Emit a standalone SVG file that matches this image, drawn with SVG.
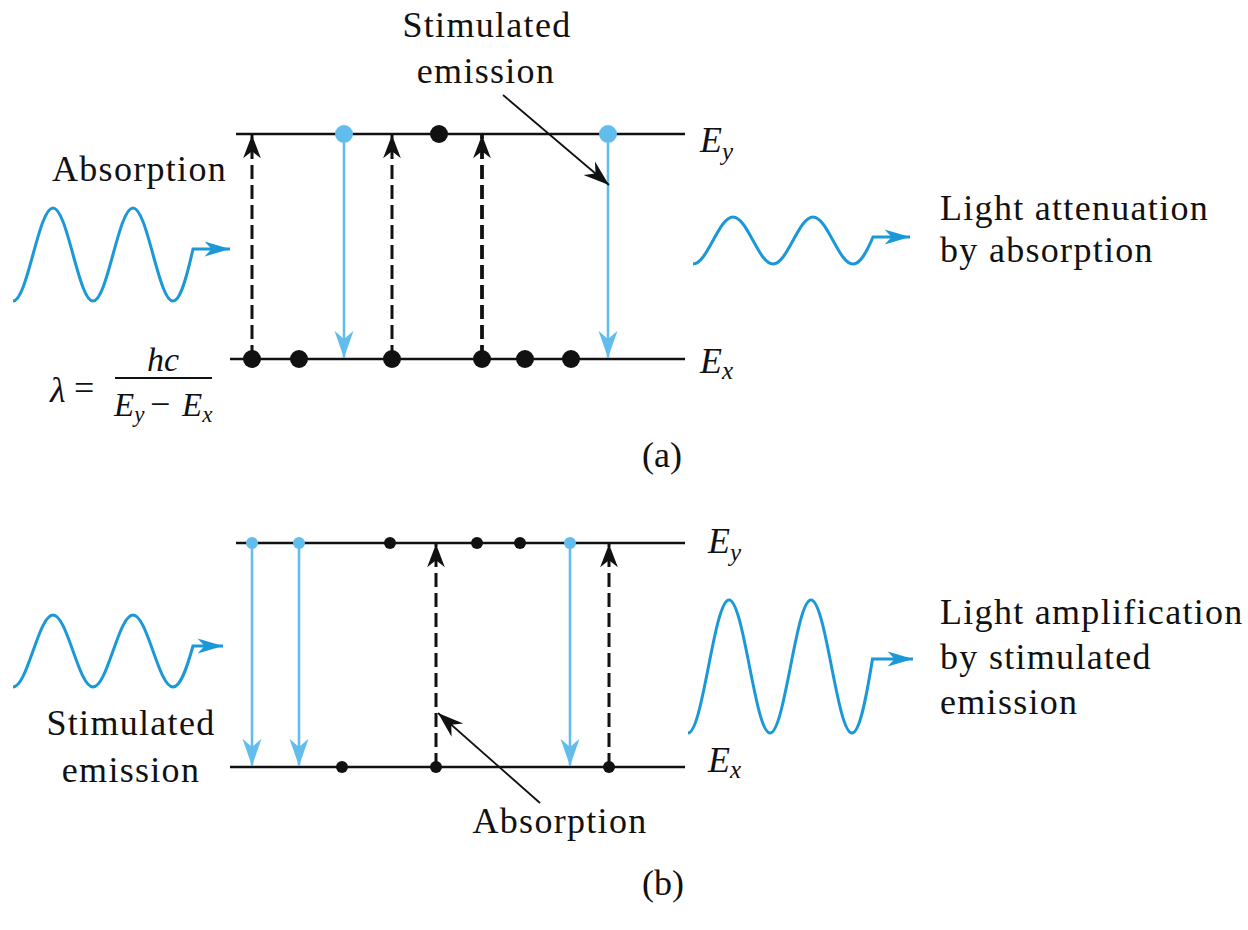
<svg xmlns="http://www.w3.org/2000/svg" width="1248" height="930" viewBox="0 0 1248 930" font-family="'Liberation Serif', 'DejaVu Serif', serif">
<defs>
<style>
.t{font-family:'Liberation Serif','DejaVu Serif',serif;font-size:36px;fill:#111;letter-spacing:1.3px}
.it{font-family:'Liberation Serif','DejaVu Serif',serif;font-style:italic;fill:#111}
.lvl{stroke:#111;stroke-width:2.6;fill:none}
.dash{stroke:#111;stroke-width:3;stroke-dasharray:14 6;fill:none;marker-end:url(#ab)}
.emi{stroke:#62bdec;stroke-width:2.6;fill:none;marker-end:url(#al)}
.ptr{stroke:#111;stroke-width:1.8;fill:none;marker-end:url(#ap)}
.wave{stroke:#1b98d8;stroke-width:3;fill:none;marker-end:url(#aw)}
.eb{fill:#111}
.el{fill:#62bdec}
</style>
<marker id="ab" markerUnits="userSpaceOnUse" orient="auto" markerWidth="30" markerHeight="30" viewBox="-20 -10 22 20" refX="0" refY="0" overflow="visible">
<path d="M0,0 L-17,-6.5 L-12,0 L-17,6.5 Z" fill="#111"/>
</marker>
<marker id="al" markerUnits="userSpaceOnUse" orient="auto" markerWidth="30" markerHeight="30" viewBox="-20 -10 22 20" refX="0" refY="0" overflow="visible">
<path d="M0,0 L-20,-7 L-14,0 L-20,7 Z" fill="#62bdec"/>
</marker>
<marker id="ap" markerUnits="userSpaceOnUse" orient="auto" markerWidth="30" markerHeight="30" viewBox="-20 -10 22 20" refX="0" refY="0" overflow="visible">
<path d="M0,0 L-19,-6.5 L-13,0 L-19,6.5 Z" fill="#111"/>
</marker>
<marker id="aw" markerUnits="userSpaceOnUse" orient="auto" markerWidth="30" markerHeight="30" viewBox="-24 -10 26 20" refX="0" refY="0" overflow="visible">
<path d="M0,0 L-22,-6.5 L-16,0 L-22,6.5 Z" fill="#1b98d8"/>
</marker>
</defs>
<rect width="1248" height="930" fill="#fff"/>

<!-- Part (a) -->
<g id="levels-a">
<line class="lvl" x1="236" y1="134" x2="685" y2="134"/>
<line class="lvl" x1="230" y1="359" x2="685" y2="359"/>
</g>
<g id="connectors-a">
<line class="dash" x1="252" y1="359" x2="252" y2="135"/>
<line class="dash" x1="392" y1="359" x2="392" y2="135"/>
<line class="dash" x1="482" y1="359" x2="482" y2="135" style="stroke-width:3.8"/>
<line class="emi" x1="344" y1="134" x2="344" y2="358"/>
<line class="emi" x1="608" y1="134" x2="608" y2="358"/>
<line class="ptr" x1="503" y1="95" x2="609" y2="185"/>
</g>
<g id="electrons-a">
<circle class="el" cx="344" cy="134" r="9"/>
<circle class="eb" cx="439" cy="134" r="9"/>
<circle class="el" cx="608" cy="134" r="9"/>
<circle class="eb" cx="252" cy="359" r="9"/>
<circle class="eb" cx="299" cy="359" r="9"/>
<circle class="eb" cx="392" cy="359" r="9"/>
<circle class="eb" cx="482" cy="359" r="9"/>
<circle class="eb" cx="525" cy="359" r="9"/>
<circle class="eb" cx="571" cy="359" r="9"/>
</g>
<g id="waves-a">
<path class="wave" d="M13,301 C20.24,301 26.48,278.3 33,254.5 C39.52,230.7 45.76,208 53,208 C60.24,208 66.48,230.7 73,254.5 C79.52,278.3 85.76,301 93,301 C100.24,301 106.48,278.3 113,254.5 C119.52,230.7 125.76,208 133,208 C140.24,208 146.48,230.7 153,254.5 C159.52,278.3 165.76,301 173,301 C180.24,301 186.48,278.3 193,249 H230"/>
<path class="wave" d="M693,264 C700.24,264 706.48,252.5 713,240.5 C719.52,228.5 725.76,217 733,217 C740.24,217 746.48,228.5 753,240.5 C759.52,252.5 765.76,264 773,264 C780.24,264 786.48,252.5 793,240.5 C799.52,228.5 805.76,217 813,217 C820.24,217 826.48,228.5 833,240.5 C839.52,252.5 845.76,264 853,264 C860.24,264 866.48,252.5 873,237 H910"/>
</g>
<g id="labels-a">
<text class="t" x="487" y="37" text-anchor="middle">Stimulated</text>
<text class="t" x="486" y="83" text-anchor="middle">emission</text>
<text class="t" x="52" y="181">Absorption</text>
<text class="it" x="700" y="152" font-size="36">E<tspan font-size="25" dy="8">y</tspan></text>
<text class="it" x="700" y="373" font-size="36">E<tspan font-size="25" dy="6">x</tspan></text>
<text class="t" x="940" y="220">Light attenuation</text>
<text class="t" x="940" y="262">by absorption</text>
<text class="t" x="662" y="467" text-anchor="middle" style="letter-spacing:0">(a)</text>
</g>
<g id="formula">
<text class="it" x="50" y="402" font-size="36">λ</text>
<text class="t" x="74" y="400" font-size="34" style="letter-spacing:0">=</text>
<text class="it" x="163" y="371" font-size="34" text-anchor="middle">hc</text>
<line x1="115" y1="378" x2="212" y2="378" stroke="#111" stroke-width="2"/>
<text class="it" x="114" y="416" font-size="33">E<tspan font-size="23" dy="6">y</tspan></text>
<text class="t" x="150" y="416" font-size="33" style="letter-spacing:0">−</text>
<text class="it" x="182" y="416" font-size="33">E<tspan font-size="23" dy="6">x</tspan></text>
</g>

<!-- Part (b) -->
<g id="levels-b">
<line class="lvl" x1="236" y1="543" x2="685" y2="543"/>
<line class="lvl" x1="230" y1="767" x2="685" y2="767"/>
</g>
<g id="connectors-b">
<line class="emi" x1="252" y1="543" x2="252" y2="766"/>
<line class="emi" x1="299" y1="543" x2="299" y2="766"/>
<line class="emi" x1="570" y1="543" x2="570" y2="766"/>
<line class="dash" x1="436" y1="767" x2="436" y2="544"/>
<line class="dash" x1="609" y1="767" x2="609" y2="544"/>
<line class="ptr" x1="540" y1="803" x2="438" y2="713"/>
</g>
<g id="electrons-b">
<circle class="el" cx="252" cy="543" r="6"/>
<circle class="el" cx="299" cy="543" r="6"/>
<circle class="eb" cx="390" cy="543" r="6"/>
<circle class="eb" cx="477" cy="543" r="6"/>
<circle class="eb" cx="520" cy="543" r="6"/>
<circle class="el" cx="570" cy="543" r="6"/>
<circle class="eb" cx="342" cy="767" r="6"/>
<circle class="eb" cx="436" cy="767" r="6"/>
<circle class="eb" cx="609" cy="767" r="6"/>
</g>
<g id="waves-b">
<path class="wave" d="M13,687 C20.24,687 26.48,669.4 33,651 C39.52,632.6 45.76,615 53,615 C60.24,615 66.48,632.6 73,651 C79.52,669.4 85.76,687 93,687 C100.24,687 106.48,669.4 113,651 C119.52,632.6 125.76,615 133,615 C140.24,615 146.48,632.6 153,651 C159.52,669.4 165.76,687 173,687 C180.24,687 186.48,669.4 193,646 H223"/>
<path class="wave" d="M688,733 C695.42,733 701.82,700.6 708.5,666.5 C715.18,632.4 721.58,600 729,600 C736.42,600 742.82,632.4 749.5,666.5 C756.18,700.6 762.58,733 770,733 C777.42,733 783.82,700.6 790.5,666.5 C797.18,632.4 803.58,600 811,600 C818.42,600 824.82,632.4 831.5,666.5 C838.18,700.6 844.58,733 852,733 C859.42,733 865.82,700.6 872.5,659 H913"/>
</g>
<g id="labels-b">
<text class="it" x="708" y="553" font-size="36">E<tspan font-size="25" dy="8">y</tspan></text>
<text class="it" x="708" y="772" font-size="36">E<tspan font-size="25" dy="6">x</tspan></text>
<text class="t" x="131" y="735" text-anchor="middle">Stimulated</text>
<text class="t" x="131" y="782" text-anchor="middle">emission</text>
<text class="t" x="560" y="833" text-anchor="middle">Absorption</text>
<text class="t" x="940" y="624">Light amplification</text>
<text class="t" x="940" y="669">by stimulated</text>
<text class="t" x="940" y="714">emission</text>
<text class="t" x="663" y="895" text-anchor="middle" style="letter-spacing:0">(b)</text>
</g>
</svg>
